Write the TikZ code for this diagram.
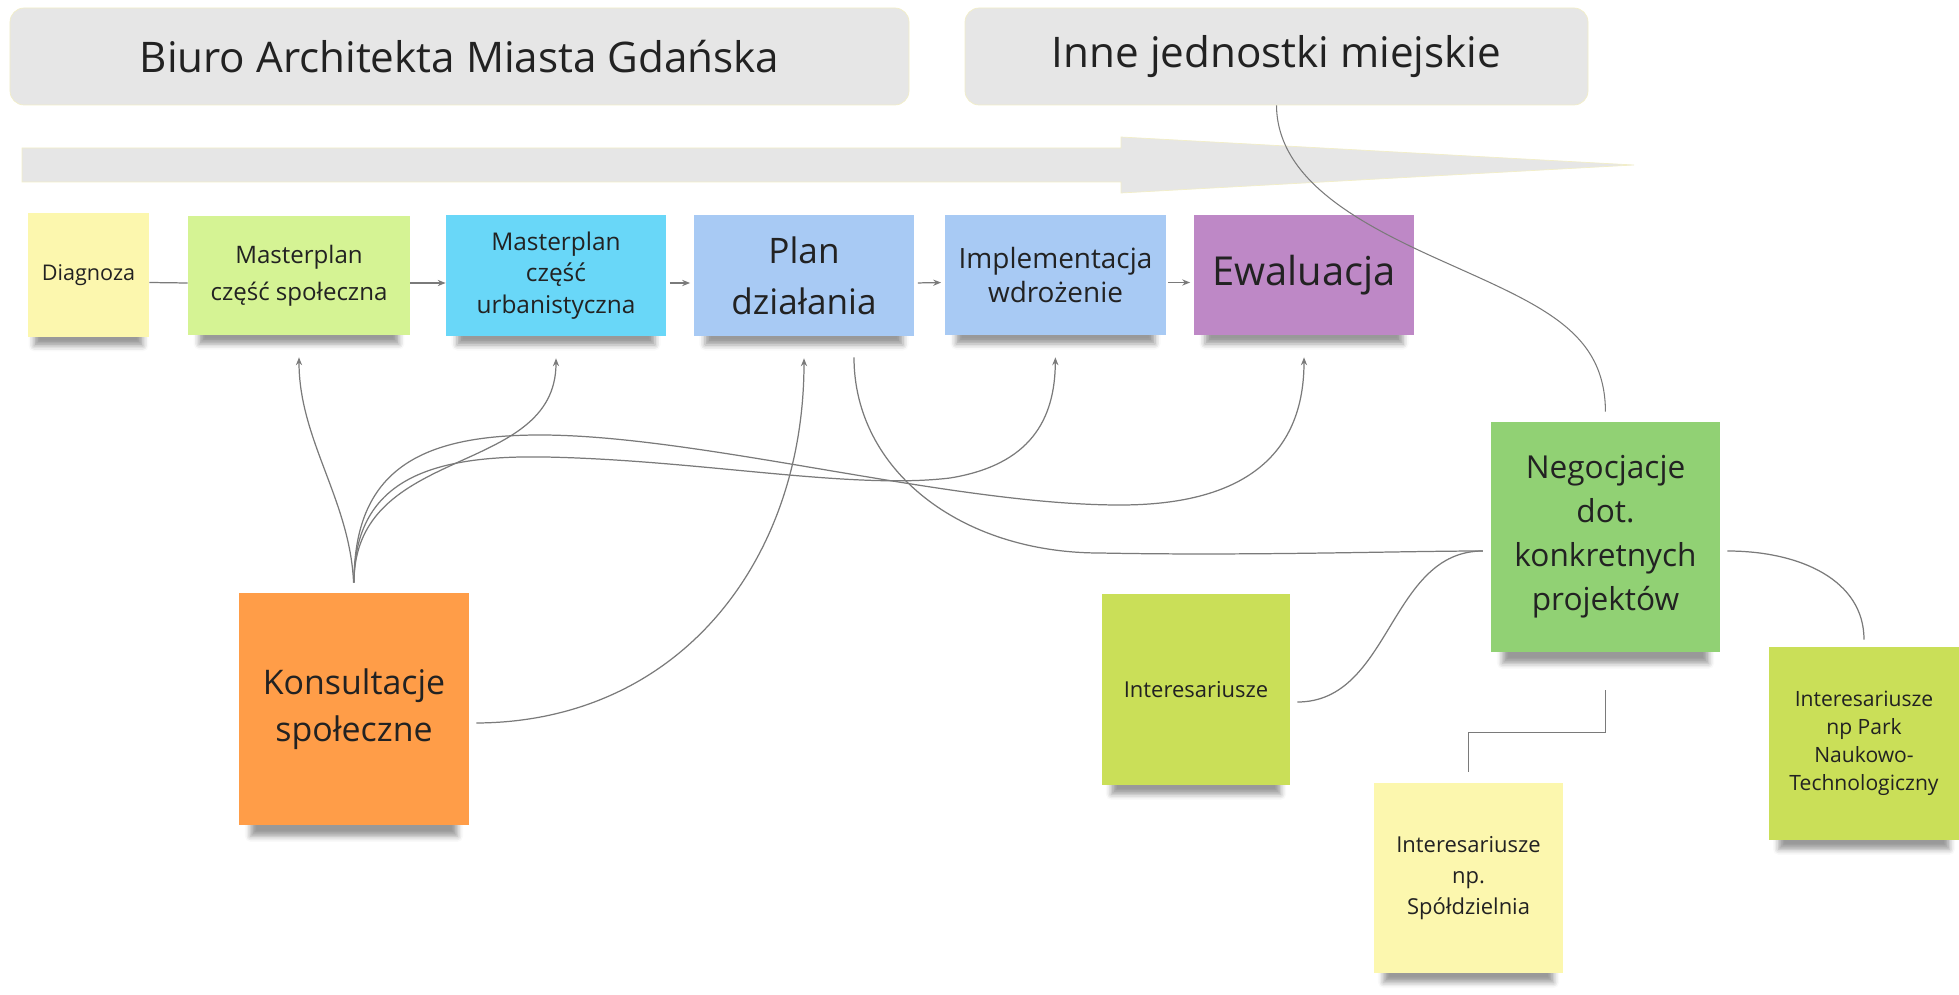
\documentclass[tikz,border=0pt]{standalone}
\usepackage{fontspec}
\setmainfont{Open Sans}
\usetikzlibrary{arrows.meta,calc,shadows.blur}

\definecolor{hdrgray}{HTML}{E6E6E6}
\definecolor{hdrline}{HTML}{F2EEC8}
\definecolor{txtdark}{HTML}{222222}
\definecolor{linkgray}{HTML}{7A7A7A}
\definecolor{stkyellow}{HTML}{FCF7AE}
\definecolor{stklime}{HTML}{D5F394}
\definecolor{stkcyan}{HTML}{69D7F8}
\definecolor{stkblue}{HTML}{A8CAF4}
\definecolor{stkviolet}{HTML}{BE88C6}
\definecolor{stkorange}{HTML}{FF9D48}
\definecolor{stkgreen}{HTML}{91D174}
\definecolor{stkolive}{HTML}{CADF58}

\pgfdeclarelayer{front}
\pgfsetlayers{main,front}

\begin{document}
\begin{tikzpicture}[x=2mm,y=2mm,
    band/.style={fill=hdrgray, draw=hdrline, rounded corners=8pt, minimum height=1.94cm, font=\fontsize{24}{29}\selectfont},
    sticky/.style={align=center, blur shadow={shadow xshift=0pt, shadow yshift=#1, shadow scale=0.9, shadow blur radius=3.5pt, shadow opacity=40}},
    sticky/.default=-9.5pt,
    link/.style={draw=linkgray, line width=0.7pt},
    tip/.style={-{Stealth[length=4.5pt,width=3.5pt]}}]
    \tikzstyle{every node}+=[inner sep=0pt, text=txtdark]
    \useasboundingbox (0,0) rectangle (195.9,-99.5);

    \node [band, minimum width=17.98cm] (biuro) at (45.95,-5.65) {Biuro Architekta Miasta Gdańska};
    \node [band, minimum width=12.46cm] (inne) at (127.65,-5.65) {Inne jednostki miejskie};
    \filldraw [fill=hdrgray, draw=hdrline, line width=0.4pt] (2.2,-14.8) -- (112.1,-14.8) -- (112.1,-13.7) -- (163.4,-16.5) -- (112.1,-19.3) -- (112.1,-18.2) -- (2.2,-18.2) -- cycle;

    \begin{pgfonlayer}{front}
    \node [sticky, fill=stkyellow, minimum width=2.42cm, minimum height=2.48cm, font=\fontsize{12.3}{16}\selectfont] (diag) at (8.85,-27.5) {Diagnoza};
    \node [sticky, fill=stklime, minimum width=4.44cm, minimum height=2.38cm, font=\fontsize{13.7}{21}\selectfont] (msoc) at (29.9,-27.55) {Masterplan\\część społeczna};
    \node [sticky, fill=stkcyan, minimum width=4.4cm, minimum height=2.42cm, font=\fontsize{13.9}{18}\selectfont] (murb) at (55.6,-27.55) {Masterplan\\część\\urbanistyczna};
    \node [sticky, fill=stkblue, minimum width=4.4cm, minimum height=2.42cm, font=\fontsize{20}{29}\selectfont] (plan) at (80.4,-27.55) {Plan\\działania};
    \node [sticky, fill=stkblue, minimum width=4.42cm, minimum height=2.4cm, font=\fontsize{15.9}{19}\selectfont] (impl) at (105.55,-27.5) {Implementacja\\wdrożenie};
    \node [sticky, fill=stkviolet, minimum width=4.4cm, minimum height=2.4cm, font=\fontsize{22.7}{27}\selectfont] (ewal) at (130.4,-27.5) {Ewaluacja};
    \node [sticky=-14.5pt, fill=stkorange, minimum width=4.6cm, minimum height=4.64cm, font=\fontsize{19.3}{27}\selectfont] (kons) at (35.4,-70.9) {Konsultacje\\społeczne};
    \node [sticky=-14.5pt, fill=stkgreen, minimum width=4.58cm, minimum height=4.6cm, font=\fontsize{18}{25}\selectfont] (nego) at (160.55,-53.7) {Negocjacje\\dot.\\konkretnych\\projektów};
    \node [sticky=-12pt, fill=stkolive, minimum width=3.76cm, minimum height=3.82cm, font=\fontsize{12.5}{17}\selectfont] (int1) at (119.6,-68.95) {Interesariusze};
    \node [sticky=-12pt, fill=stkyellow, minimum width=3.78cm, minimum height=3.8cm, font=\fontsize{12.5}{17.6}\selectfont] (int2) at (146.85,-87.8) {Interesariusze\\np.\\Spółdzielnia};
    \node [sticky=-12pt, fill=stkolive, minimum width=3.8cm, minimum height=3.86cm, font=\fontsize{12}{16}\selectfont] (int3) at (186.4,-74.35) {Interesariusze\\np Park\\Naukowo-\\Technologiczny};
    \draw [link, line width=0.6pt, shorten >=5.7pt] (inne.south) .. controls (127.7,-18) and (136,-22.4) .. (144,-26) .. controls (154,-30.5) and (160.5,-33) .. (nego.north);
    \end{pgfonlayer}

    \draw [link] ($(diag.east)+(0,-0.75)$) -- ($(msoc.west)+(0,-0.75)$);
    \draw [link, tip] ($(msoc.east)+(0,-0.75)$) -- ($(murb.west)+(0,-0.75)$);
    \draw [link, tip, shorten <=2pt, shorten >=2pt] ($(murb.east)+(0,-0.75)$) -- ($(plan.west)+(0,-0.75)$);
    \draw [link, tip, shorten <=2pt, shorten >=2pt] ($(plan.east)+(0,-0.75)$) -- ($(impl.west)+(0,-0.75)$);
    \draw [link, tip, shorten <=1pt, shorten >=2pt] ($(impl.east)+(0,-0.75)$) -- ($(ewal.west)+(0,-0.75)$);
    % konsultacje
    \draw [link, tip, shorten <=5.7pt, shorten >=12.5pt] (kons.north) .. controls (35,-50) and (29.9,-44) .. (msoc.south);
    \draw [link, tip, shorten <=5.7pt, shorten >=12.5pt] (kons.north) .. controls (35.4,-44.3) and (55.6,-47.8) .. (murb.south);
    \draw [link, tip, shorten <=5.7pt, shorten >=12.5pt] (kons.north) .. controls (35.4,-48) and (43,-45.5) .. (54.5,-45.7) .. controls (70,-46) and (85,-49) .. (95,-47.8) .. controls (103,-46.5) and (105.5,-42) .. (impl.south);
    \draw [link, tip, shorten <=5.7pt, shorten >=12.5pt] (kons.north) .. controls (35.4,-47) and (42,-43.5) .. (54,-43.5) .. controls (70,-43.5) and (95,-50.5) .. (112,-50.5) .. controls (125,-50.5) and (130.4,-45) .. (ewal.south);
    \draw [link, tip, shorten >=12.5pt] ($(kons.east)+(0.7,-1.4)$) .. controls (68,-72.2) and (80.4,-56) .. (plan.south);
    % negocjacje
    \draw [link, shorten <=12pt, shorten >=4.5pt] ($(plan.south)+(5,0)$) .. controls (85.4,-47) and (96,-55.3) .. (110,-55.3) .. controls (125,-55.6) and (140,-55.1) .. ($(nego.west)+(0,-1.4)$);
    \draw [link, shorten <=4pt, shorten >=4.5pt] ($(int1.east)+(0,-1.25)$) .. controls (139.1,-70.2) and (138.9,-55.1) .. ($(nego.west)+(0,-1.4)$);
    \draw [link, shorten <=4pt, shorten >=4pt] ($(nego.east)+(0,-1.4)$) .. controls (180,-55.1) and (186.4,-58) .. (int3.north);
    \draw [link] (nego.south) ++(0,-3.8) -- ++(0,-4.2) -| ($(int2.north)+(0,1.1)$);
\end{tikzpicture}
\end{document}
